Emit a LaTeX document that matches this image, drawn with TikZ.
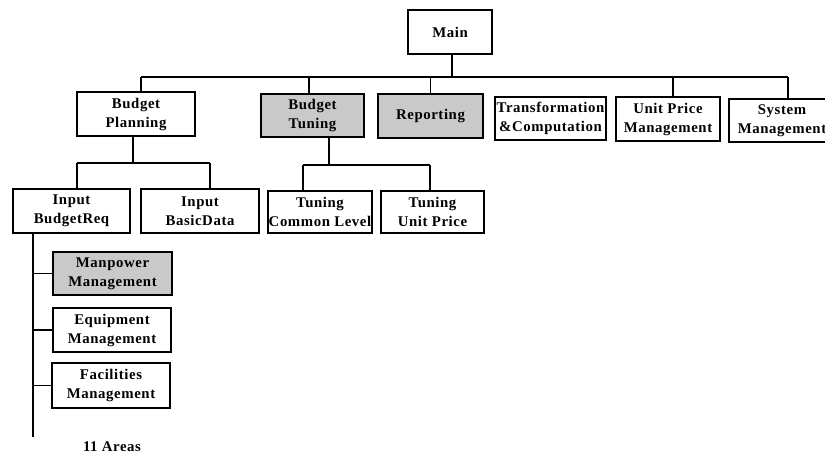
\documentclass[tikz,border=0pt]{standalone}
\usepackage{fontspec}
\setmainfont[LetterSpace=4]{Liberation Serif}
\begin{document}
\begin{tikzpicture}[x=1pt,y=-1pt,
  box/.style={draw, line width=1.1pt, fill=white, inner sep=0pt, align=center,
    font=\bfseries\fontsize{14.8}{19}\selectfont},
  shaded/.style={box, fill=gray!42},
  conn/.style={line width=1.1pt}]
\clip (0,0) rectangle (825,455);
% top
\node[box, minimum width=84, minimum height=44] (main) at (450,32) {Main};
% level 1
\node[box, minimum width=118, minimum height=44] (bp) at (136,114) {Budget\\Planning};
\node[shaded, minimum width=103, minimum height=43] (bt) at (312.5,115.5) {Budget\\Tuning};
\node[shaded, minimum width=105, minimum height=44] (rep) at (430.5,116) {Reporting};
\node[box, minimum width=111, minimum height=43] (tc) at (550.5,118.5) {Transformation\\\&Computation};
\node[box, minimum width=104, minimum height=44] (upm) at (668,119) {Unit Price\\Management};
\node[box, minimum width=106, minimum height=43] (sm) at (782,120.5) {System\\Management};
% level 2
\node[box, minimum width=117, minimum height=44] (ibr) at (71.5,211) {Input\\BudgetReq};
\node[box, minimum width=118, minimum height=44] (ibd) at (200,211) {Input\\BasicData};
\node[box, minimum width=104, minimum height=42] (tcl) at (320,212) {Tuning\\Common Level};
\node[box, minimum width=103, minimum height=42] (tup) at (432.5,212) {Tuning\\Unit Price};
% level 3
\node[shaded, minimum width=119, minimum height=43] (man) at (112.5,273.5) {Manpower\\Management};
\node[box, minimum width=118, minimum height=44] (eq) at (112,330) {Equipment\\Management};
\node[box, minimum width=118, minimum height=45] (fac) at (111,385.5) {Facilities\\Management};
\node[font=\bfseries\fontsize{14.8}{19}\selectfont, inner sep=0pt] (areas) at (112,447) {11 Areas};
% bus from Main
\coordinate (busL) at (141,77);
\coordinate (busR) at (788,77);
\draw[conn] (busL) -- (busR);
\draw[conn] ([xshift=2]main.south) -- ([xshift=2]main.south |- busL);
\draw[conn] (busL) -- (busL |- bp.north);
\draw[conn] ([xshift=-3.5]bt.north) -- ([xshift=-3.5]bt.north |- busL);
\draw[conn] (rep.north) -- (rep.north |- busL);
\draw[conn] ([xshift=5]upm.north) -- ([xshift=5]upm.north |- busL);
\draw[conn] (busR) -- (busR |- sm.north);
% Budget Planning children
\coordinate (bpL) at (77,163);
\coordinate (bpR) at (210,163);
\draw[conn] ([xshift=-3]bp.south) -- ([xshift=-3]bp.south |- bpL);
\draw[conn] (bpL) -- (bpR);
\draw[conn] (bpL) -- (bpL |- ibr.north);
\draw[conn] (bpR) -- (bpR |- ibd.north);
% Budget Tuning children
\coordinate (btL) at (303,165);
\coordinate (btR) at (430,165);
\draw[conn] ([xshift=16.5]bt.south) -- ([xshift=16.5]bt.south |- btL);
\draw[conn] (btL) -- (btR);
\draw[conn] (btL) -- (btL |- tcl.north);
\draw[conn] (btR) -- (btR |- tup.north);
% spine under Input BudgetReq
\coordinate (sp) at (33,437);
\draw[conn] (sp |- ibr.south) -- (sp);
\draw[conn] (sp |- man.west) -- (man.west);
\draw[conn] (sp |- eq.west) -- (eq.west);
\draw[conn] (sp |- fac.west) -- (fac.west);
\end{tikzpicture}
\end{document}
